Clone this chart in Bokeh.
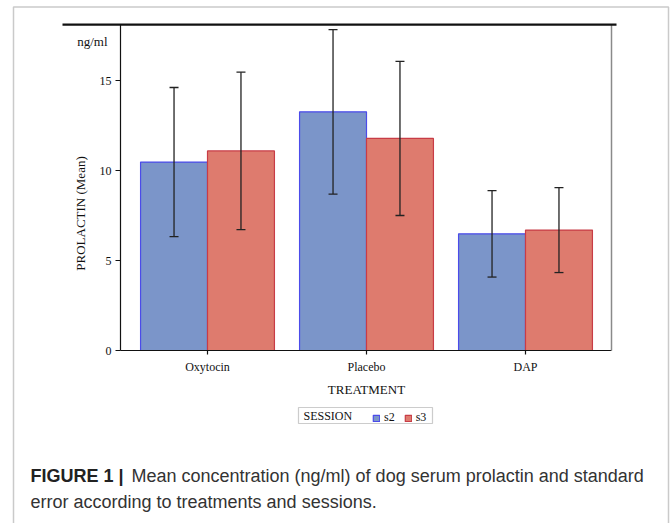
from bokeh.plotting import figure
from bokeh.models import (ColumnDataSource, Range1d, FixedTicker, LinearAxis,
                          Whisker, TeeHead, Legend, LegendItem, Label, BoxAnnotation)
from bokeh.transform import dodge
from bokeh.embed import file_html
from bokeh.resources import INLINE
import math

# ---- data ----
treatments = ["Oxytocin", "Placebo", "DAP"]
sessions = ["s2", "s3"]
s2_mean = [10.47, 13.26, 6.48]
s3_mean = [11.09, 11.78, 6.69]
s2_se = [4.14, 4.57, 2.40]
s3_se = [4.37, 4.28, 2.36]
y_ticks = [0, 5, 10, 15]
y_top = 18.1
y_label = "PROLACTIN (Mean)"
y_unit = "ng/ml"
x_label = "TREATMENT"
legend_title = "SESSION"
caption_bold = "FIGURE 1 |"
caption_line1 = "Mean concentration (ng/ml) of dog serum prolactin and standard"
caption_line2 = "error according to treatments and sessions."

SERIF = "Liberation Serif"
SANS = "Liberation Sans"
INK = "#111111"

# ---- page geometry (pixels) -> data coordinates ----
W, H = 672, 523
CAT_PX = 159.0      # pixels per category
CAT0_PX = 207.0     # pixel x of the first category centre
ZERO_PX = 350.0     # pixel y of value 0
UNIT_PX = 18.0      # pixels per unit of prolactin


def dx(px):
    return (px - CAT0_PX) / CAT_PX


def dy(py):
    return (ZERO_PX - py) / UNIT_PX


xpos = list(range(len(treatments)))
src = ColumnDataSource(dict(
    x=xpos,
    s2=s2_mean, s3=s3_mean,
    s2_lo=[m - e for m, e in zip(s2_mean, s2_se)],
    s2_hi=[m + e for m, e in zip(s2_mean, s2_se)],
    s3_lo=[m - e for m, e in zip(s3_mean, s3_se)],
    s3_hi=[m + e for m, e in zip(s3_mean, s3_se)],
))

p = figure(x_range=Range1d(dx(0), dx(W)), y_range=Range1d(dy(H), dy(0)),
           width=W, height=H, x_axis_type=None, y_axis_type=None,
           output_backend="svg", toolbar_location=None,
           min_border=0, min_border_left=0, min_border_right=0,
           min_border_top=0, min_border_bottom=0)
p.outline_line_color = None
p.background_fill_color = "white"
p.border_fill_color = "white"

x_left, x_right = dx(120), dx(611)

# outer frame of the figure panel
p.add_layout(BoxAnnotation(left=dx(13), right=dx(668), top=dy(6.5), bottom=dy(H + 20),
                           fill_alpha=0, line_color="#505050", line_width=1.5))
# rule above the chart
p.add_layout(BoxAnnotation(left=dx(62), right=dx(616), top=dy(23), bottom=dy(25.2),
                           fill_color="#111111", fill_alpha=1, line_color=None))

# bars and error bars
off = 0.2105
bw = 0.421
colors_fill = ["#7b95c9", "#de7b6e"]
colors_line = ["#4b4bea", "#c83c46"]
rends = []
for i, s in enumerate(sessions):
    d = -off if i == 0 else off
    r = p.vbar(x=dodge("x", d), top=s, bottom=0, width=bw, source=src,
               fill_color=colors_fill[i], line_color=colors_line[i], line_width=1.2)
    rends.append(r)
    w = Whisker(base=dodge("x", d), upper=s + "_hi", lower=s + "_lo",
                source=src, line_color="#222222", line_width=1.3, level="overlay",
                upper_head=TeeHead(size=9, line_color="#222222", line_width=1.3),
                lower_head=TeeHead(size=9, line_color="#222222", line_width=1.3))
    p.add_layout(w)

# axes drawn at fixed places inside the canvas
yaxis = LinearAxis(fixed_location=x_left, bounds=(0, y_top), ticker=FixedTicker(ticks=y_ticks),
                   axis_line_color=INK, axis_line_width=1.2,
                   major_tick_line_color=INK, major_tick_line_width=1.2,
                   major_tick_out=5, major_tick_in=0, minor_tick_line_color=None,
                   major_label_standoff=4, major_label_text_font=SERIF,
                   major_label_text_font_size="12px", major_label_text_color=INK)
p.add_layout(yaxis, "left")

xaxis = LinearAxis(fixed_location=0, bounds=(x_left, x_right), ticker=FixedTicker(ticks=xpos),
                   major_label_overrides={i: t for i, t in zip(xpos, treatments)},
                   axis_line_color=INK, axis_line_width=1.2,
                   major_tick_line_color=INK, major_tick_line_width=1.2,
                   major_tick_out=4, major_tick_in=0, minor_tick_line_color=None,
                   major_label_standoff=5, major_label_text_font=SERIF,
                   major_label_text_font_size="12px", major_label_text_color=INK)
p.add_layout(xaxis, "below")

raxis = LinearAxis(fixed_location=x_right, bounds=(0, y_top), ticker=FixedTicker(ticks=[]),
                   axis_line_color="#8a8a8a", axis_line_width=1.5,
                   major_tick_line_color=None, minor_tick_line_color=None,
                   major_label_text_font_size="0px")
p.add_layout(raxis, "right")

# axis titles and unit
p.add_layout(Label(x=dx(80), y=dy(213), text=y_label, angle=math.pi / 2,
                   text_align="center", text_baseline="middle",
                   text_font=SERIF, text_font_size="13px", text_color=INK))
p.add_layout(Label(x=dx(107), y=dy(41), text=y_unit, text_align="right", text_baseline="middle",
                   text_font=SERIF, text_font_size="13px", text_color=INK))
p.add_layout(Label(x=dx(366), y=dy(389), text=x_label, text_align="center", text_baseline="middle",
                   text_font=SERIF, text_font_size="13px", text_color=INK))

# legend: box, title text, and the two session entries
p.add_layout(BoxAnnotation(left=dx(298), right=dx(432), top=dy(407), bottom=dy(423),
                           fill_color="white", fill_alpha=1, line_color="#555555", line_width=1.2))
p.add_layout(Label(x=dx(303), y=dy(415), text=legend_title, text_align="left", text_baseline="middle",
                   text_font=SERIF, text_font_size="12px", text_color=INK))
leg = Legend(items=[LegendItem(label=sessions[0], renderers=[rends[0]]),
                    LegendItem(label=sessions[1], renderers=[rends[1]])],
             orientation="horizontal", location=(372, H - 425),
             padding=0, margin=0, spacing=9, glyph_width=8, glyph_height=8,
             label_standoff=4, label_height=14, label_width=10,
             label_text_font=SERIF, label_text_font_size="12px", label_text_color=INK,
             border_line_color=None, background_fill_alpha=0)
p.add_layout(leg)

# caption
p.add_layout(Label(x=dx(30), y=dy(475), text=caption_bold, text_baseline="middle",
                   text_font=SANS, text_font_size="18px", text_font_style="bold",
                   text_color="#222222"))
p.add_layout(Label(x=dx(131), y=dy(475), text=caption_line1, text_baseline="middle",
                   text_font=SANS, text_font_size="18px", text_color="#333333"))
p.add_layout(Label(x=dx(30), y=dy(501), text=caption_line2, text_baseline="middle",
                   text_font=SANS, text_font_size="18px", text_color="#333333"))

open("out.html", "w").write(file_html(p, INLINE))
